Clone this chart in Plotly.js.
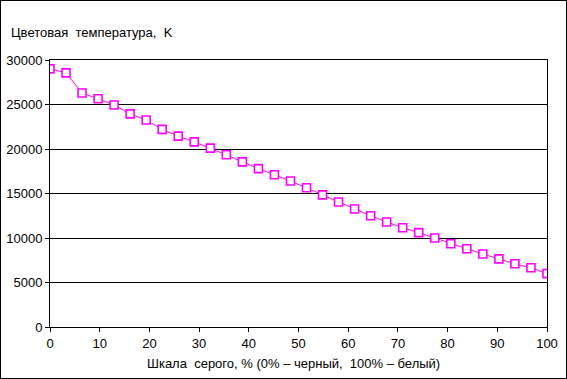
<!DOCTYPE html>
<html>
<head>
<meta charset="utf-8">
<script src="https://cdn.plot.ly/plotly-3.0.1.min.js"></script>
<style>
html,body{margin:0;padding:0;background:#fff;}
#wrap{position:relative;width:567px;height:379px;}
#chart{width:567px;height:379px;}
#frame{position:absolute;left:0;top:0;width:565px;height:377px;border:1px solid #000;pointer-events:none;}
</style>
</head>
<body>
<div id="wrap"><div id="chart"></div><div id="frame"></div></div>
<script>
// Grey scale, % (0% black .. 100% white): 32 steps
const grayPercent = [0, 3.23, 6.45, 9.68, 12.9, 16.13, 19.35, 22.58, 25.81, 29.03, 32.26, 35.48, 38.71, 41.94, 45.16, 48.39, 51.61, 54.84, 58.06, 61.29, 64.52, 67.74, 70.97, 74.19, 77.42, 80.65, 83.87, 87.1, 90.32, 93.55, 96.77, 100];
const colorTempK = [29000, 28550, 26300, 25650, 24950, 23950, 23250, 22200, 21450, 20800, 20100, 19350, 18550, 17800, 17100, 16400, 15650, 14850, 14050, 13250, 12500, 11800, 11150, 10600, 10000, 9350, 8800, 8200, 7650, 7100, 6650, 6000];
const yTicks = [0, 5000, 10000, 15000, 20000, 25000, 30000];
const xTicks = [0, 10, 20, 30, 40, 50, 60, 70, 80, 90, 100];
const yTitle = 'Цветовая  температура,  K';
const xTitle = 'Шкала  серого, % (0% – черный,  100% – белый)';

const font = {family: 'Liberation Sans, Arial, sans-serif', size: 13, color: '#000'};
const L = 50, R = 19.5, T = 60, B = 51.5;
const pw = 567 - L - R, ph = 379 - T - B;

Plotly.newPlot('chart', [{
  x: grayPercent,
  y: colorTempK,
  type: 'scatter',
  mode: 'lines+markers',
  line: {color: '#FF00FF', width: 1},
  marker: {symbol: 'square', size: 8, color: '#FFFFFF', line: {color: '#FF00FF', width: 1.6}},
  showlegend: false,
  hoverinfo: 'x+y'
}], {
  width: 567, height: 379,
  margin: {l: L, r: R, t: T, b: B, pad: 0},
  paper_bgcolor: '#fff', plot_bgcolor: '#fff',
  font: font,
  xaxis: {
    range: [0, 100], tickvals: xTicks, ticktext: xTicks.map(String),
    showgrid: false, zeroline: false,
    showline: true, linecolor: '#000', linewidth: 1, mirror: true,
    ticks: 'outside', ticklen: 4, tickcolor: '#000', tickwidth: 1,
    tickfont: font, fixedrange: true
  },
  yaxis: {
    range: [0, 30000], tickvals: yTicks, ticktext: yTicks.map(String),
    showgrid: true, gridcolor: '#000', gridwidth: 1, zeroline: false,
    showline: true, linecolor: '#000', linewidth: 1, mirror: true,
    ticks: 'outside', ticklen: 4, tickcolor: '#000', tickwidth: 1,
    tickfont: font, fixedrange: true
  },
  annotations: [
    {text: yTitle, xref: 'paper', yref: 'paper', x: (9 - L) / pw, y: (T + ph - 32) / ph,
     xanchor: 'left', yanchor: 'middle', showarrow: false, font: font},
    {text: xTitle, xref: 'paper', yref: 'paper', x: (145 - L) / pw, y: (T + ph - 364) / ph,
     xanchor: 'left', yanchor: 'middle', showarrow: false, font: font}
  ]
}, {displayModeBar: false, staticPlot: true});
</script>
</body>
</html>
